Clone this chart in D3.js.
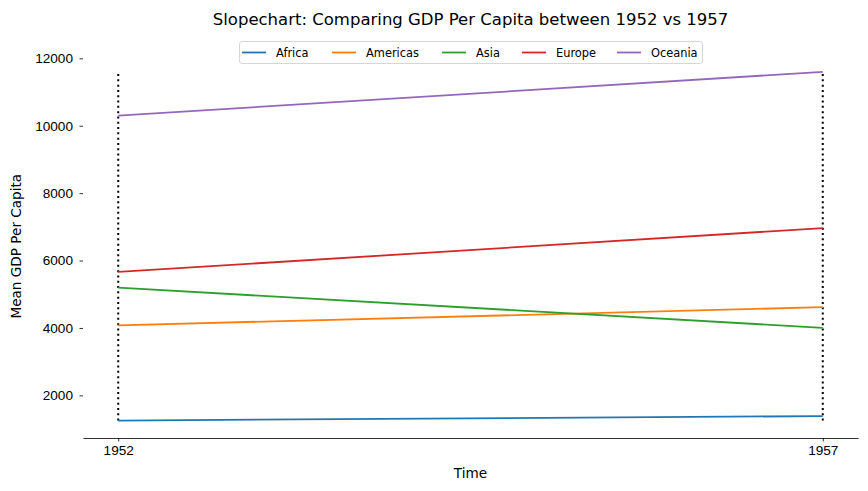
<!DOCTYPE html>
<html>
<head>
<meta charset="utf-8">
<style>
  body { margin: 0; background: white; }
  svg { font-family: 'DejaVu Sans', sans-serif; }
</style>
</head>
<body>
<svg width="868" height="491"></svg>
<script src="https://d3js.org/d3.v7.min.js"></script>
<script>
// data
const years = [1952, 1957];
const continents = ["Africa", "Americas", "Asia", "Europe", "Oceania"];
const gdp1952 = [1252.57, 4079.06, 5195.48, 5661.06, 10298.09];
const gdp1957 = [1385.24, 4616.04, 4003.13, 6963.01, 11598.52];
const colors = ["#1f77b4", "#ff7f0e", "#2ca02c", "#d62728", "#9467bd"];
const yTicks = [2000, 4000, 6000, 8000, 10000, 12000];

const svg = d3.select("svg");
const plotL = 83, plotR = 858, plotT = 54.4, plotB = 438;

// matplotlib style 5% margins
const allVals = gdp1952.concat(gdp1957);
const yMin = d3.min(allVals), yMax = d3.max(allVals);
const yPad = (yMax - yMin) * 0.05;
const x = d3.scaleLinear().domain([1952 - 0.25, 1957 + 0.25]).range([plotL, plotR]);
const y = d3.scaleLinear().domain([yMin - yPad, yMax + yPad]).range([plotB, plotT]);

// vertical dotted guides
svg.append("g").selectAll("line")
  .data(years)
  .join("line")
  .attr("x1", d => x(d)).attr("x2", d => x(d))
  .attr("y1", y(yMin)).attr("y2", y(yMax))
  .attr("stroke", "black")
  .attr("stroke-width", 2)
  .attr("stroke-dasharray", "2,3.3");

// slope lines
const rows = continents.map((c, i) => ({ name: c, color: colors[i], vals: [gdp1952[i], gdp1957[i]] }));
svg.append("g").selectAll("line")
  .data(rows)
  .join("line")
  .attr("x1", x(years[0])).attr("x2", x(years[1]))
  .attr("y1", d => y(d.vals[0])).attr("y2", d => y(d.vals[1]))
  .attr("stroke", d => d.color)
  .attr("stroke-width", 1.8);

// x axis (bottom spine only)
const xAxis = svg.append("g")
  .attr("transform", `translate(0,${plotB})`)
  .call(d3.axisBottom(x).tickValues(years).tickFormat(d3.format("d")).tickSizeInner(3.5).tickSizeOuter(0).tickPadding(4));
xAxis.select(".domain").attr("stroke", "black").attr("stroke-width", 0.8);
xAxis.selectAll(".tick line").attr("stroke-width", 0.8);
xAxis.selectAll("text").attr("font-size", "13.6px").attr("fill", "black");

// y axis (ticks without spine)
const yAxis = svg.append("g")
  .attr("transform", `translate(${plotL},0)`)
  .call(d3.axisLeft(y).tickValues(yTicks).tickFormat(d3.format("d")).tickSizeInner(3.5).tickSizeOuter(0).tickPadding(6.5));
yAxis.select(".domain").remove();
yAxis.selectAll(".tick line").attr("stroke-width", 0.8);
yAxis.selectAll("text").attr("font-size", "13.6px").attr("fill", "black");

// labels
svg.append("text")
  .attr("x", (plotL + plotR) / 2).attr("y", 25)
  .attr("text-anchor", "middle")
  .attr("font-size", "16.5px")
  .text("Slopechart: Comparing GDP Per Capita between 1952 vs 1957");

svg.append("text")
  .attr("x", (plotL + plotR) / 2).attr("y", 478)
  .attr("text-anchor", "middle")
  .attr("font-size", "13.6px")
  .text("Time");

svg.append("text")
  .attr("transform", `translate(21,${(plotT + plotB) / 2}) rotate(-90)`)
  .attr("text-anchor", "middle")
  .attr("font-size", "13.6px")
  .text("Mean GDP Per Capita");

// legend
const legend = svg.append("g");
legend.append("rect")
  .attr("x", 239.5).attr("y", 41.5)
  .attr("width", 463).attr("height", 22)
  .attr("rx", 2.5)
  .attr("fill", "white")
  .attr("stroke", "#d6d6d6");
const legendX = [242, 332, 442, 522, 617];
const items = legend.selectAll("g.item")
  .data(rows)
  .join("g")
  .attr("class", "item")
  .attr("transform", (d, i) => `translate(${legendX[i]},52.5)`);
items.append("line")
  .attr("x1", 0).attr("x2", 24)
  .attr("stroke", d => d.color)
  .attr("stroke-width", 1.8);
items.append("text")
  .attr("x", 34).attr("dy", "0.35em")
  .attr("font-size", "11.4px")
  .text(d => d.name);
</script>
</body>
</html>
